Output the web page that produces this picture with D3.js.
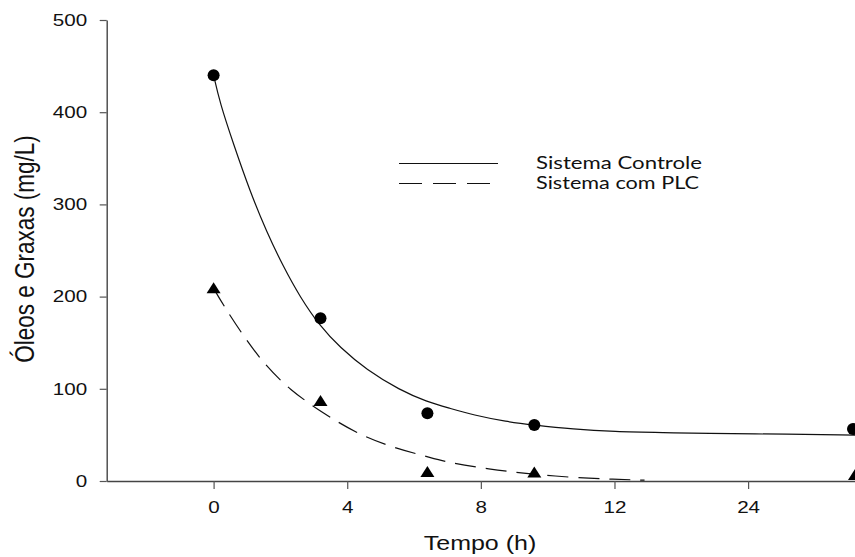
<!DOCTYPE html>
<html>
<head>
<meta charset="utf-8">
<script src="https://cdn.jsdelivr.net/npm/d3@7"></script>
<style>
  body { margin: 0; background: #fff; }
  svg { display: block; }
</style>
</head>
<body>
<div id="chart"></div>
<script>
// x values are positions on the (broken) time axis, ticks relabelled below
var tickPos = [0, 4, 8, 12, 16];
var tickLabels = ["0", "4", "8", "12", "24"];
var yTicks = [0, 100, 200, 300, 400, 500];

// measured points
var ctrlX = [0, 3.2, 6.4, 9.6, 19.14];
var ctrlY = [440, 176.5, 73.4, 60.7, 56.4];
var plcX = [0, 3.2, 6.4, 9.6, 19.2];
var plcY = [209, 86.8, 9.8, 9.2, 6.5];

// fitted curves
var ctrlFitX = [0, 0.19, 0.59, 1.09, 1.59, 2.08, 2.58, 3.18, 3.78, 4.58, 5.57, 6.38, 7.07, 7.77, 8.77, 9.57, 10.77, 11.96, 13.56, 14.56, 17.35, 18.95, 19.3];
var ctrlFitY = [440, 410, 366, 314, 270, 233, 200, 168, 145, 120.4, 98.7, 86, 78.9, 71.6, 64.3, 60.7, 56.1, 53.5, 52.4, 51.7, 50.7, 49.9, 49.8];
var plcFitX = [0, 0.29, 0.84, 1.49, 2.28, 3.28, 4.28, 5.28, 6.57, 7.07, 8.27, 9.27, 10.77, 12.0, 12.9];
var plcFitY = [209, 190.9, 160, 127.7, 98.7, 73.5, 51.7, 37.2, 24.6, 19.8, 12.7, 8.4, 3.6, 1.8, 0.9];

var legendNames = ["Sistema Controle", "Sistema com PLC"];

var width = 855, height = 557;
var stretch = 1.25; // the source picture is wider than it is tall

var svg = d3.select("#chart").append("svg")
  .attr("width", width)
  .attr("height", height);

var x = d3.scaleLinear().domain([-3.2, 19.2]).range([106.7, 855]);
var y = d3.scaleLinear().domain([0, 500]).range([481, 20]);

var font = "'Liberation Sans', Arial, sans-serif";

// axes
var xAxis = d3.axisBottom(x)
  .tickValues(tickPos)
  .tickFormat((d, i) => tickLabels[i])
  .tickSize(8)
  .tickSizeOuter(0);
var yAxis = d3.axisLeft(y)
  .tickValues(yTicks)
  .tickSize(7)
  .tickSizeOuter(0);

var gx = svg.append("g")
  .attr("transform", "translate(0," + y(0) + ")")
  .call(xAxis);
var gy = svg.append("g")
  .attr("transform", "translate(" + x.range()[0] + ",0)")
  .call(yAxis);

[gx, gy].forEach(g => {
  g.select(".domain").attr("stroke", "#444").attr("stroke-width", 1.4);
  g.selectAll(".tick line").attr("stroke", "#555").attr("stroke-width", 1.2);
  g.selectAll("text")
    .attr("fill", "#111")
    .style("font-family", font)
    .style("font-size", "16.5px");
});
gx.selectAll(".tick text")
  .attr("y", 0).attr("dy", 0)
  .attr("transform", "translate(0,32) scale(" + stretch + ",1)");
gy.selectAll(".tick text")
  .attr("x", 0)
  .attr("transform", "translate(-19.5,0) scale(" + stretch + ",1)");

// axis titles
svg.append("text")
  .attr("transform", "translate(480,550) scale(" + stretch + ",1)")
  .attr("text-anchor", "middle")
  .style("font-family", font)
  .style("font-size", "20px")
  .attr("fill", "#111")
  .text("Tempo (h)");

svg.append("text")
  .attr("transform", "translate(34,249) scale(" + stretch + ",1) rotate(-90)")
  .attr("text-anchor", "middle")
  .style("font-family", font)
  .style("font-size", "22.5px")
  .attr("fill", "#111")
  .text("Óleos e Graxas (mg/L)");

// fitted curves
var line = d3.line()
  .x(d => x(d[0]))
  .y(d => y(d[1]))
  .curve(d3.curveBasis);

svg.append("path")
  .datum(d3.zip(ctrlFitX, ctrlFitY))
  .attr("d", line)
  .attr("fill", "none")
  .attr("stroke", "#111")
  .attr("stroke-width", 1.2);

svg.append("path")
  .datum(d3.zip(plcFitX, plcFitY))
  .attr("d", line)
  .attr("fill", "none")
  .attr("stroke", "#111")
  .attr("stroke-width", 1.2)
  .attr("stroke-dasharray", "21,10");

// markers
svg.append("g").selectAll("circle")
  .data(d3.zip(ctrlX, ctrlY))
  .join("circle")
  .attr("cx", d => x(d[0]))
  .attr("cy", d => y(d[1]))
  .attr("r", 6)
  .attr("fill", "#000");

svg.append("g").selectAll("path")
  .data(d3.zip(plcX, plcY))
  .join("path")
  .attr("transform", d => "translate(" + x(d[0]) + "," + y(d[1]) + ")")
  .attr("d", "M0,-6L7,5L-7,5Z")
  .attr("fill", "#000");

// legend
var lg = svg.append("g");
lg.append("line")
  .attr("x1", 399).attr("x2", 498).attr("y1", 163.5).attr("y2", 163.5)
  .attr("stroke", "#111").attr("stroke-width", 1.2);
lg.append("line")
  .attr("x1", 399).attr("x2", 490).attr("y1", 183.5).attr("y2", 183.5)
  .attr("stroke", "#111").attr("stroke-width", 1.2)
  .attr("stroke-dasharray", "23,11");

var legendLen = [166, 163];
lg.selectAll("text")
  .data(legendNames)
  .join("text")
  .attr("x", 536)
  .attr("y", (d, i) => 168.5 + i * 20.5)
  .attr("textLength", (d, i) => legendLen[i])
  .attr("lengthAdjust", "spacingAndGlyphs")
  .style("font-family", "Lato, 'Open Sans', sans-serif")
  .style("font-size", "17px")
  .attr("fill", "#111")
  .text(d => d);
</script>
</body>
</html>
